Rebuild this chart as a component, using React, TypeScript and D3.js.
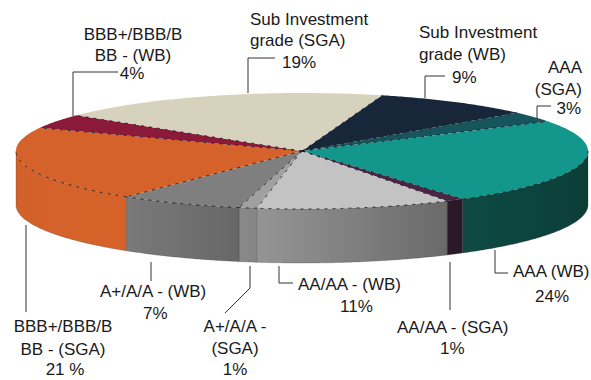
import React from "react";
import * as d3 from "d3";

// Portfolio shares by rating bucket, clockwise from the top-right slice
const categories = [
  "Sub Investment grade (WB)",
  "AAA (SGA)",
  "AAA (WB)",
  "AA/AA - (SGA)",
  "AA/AA - (WB)",
  "A+/A/A - (SGA)",
  "A+/A/A - (WB)",
  "BBB+/BBB/BBB - (SGA)",
  "BBB+/BBB/BBB - (WB)",
  "Sub Investment grade (SGA)",
];
const values = [9, 3, 24, 1, 11, 1, 7, 21, 4, 19];
const pctSep = ["", "", "", "", "", "", "", " ", "", ""];

// Label text lines (the last line of every label is the percentage)
const labelLines = [
  ["Sub Investment", "grade (WB)"],
  ["AAA", "(SGA)"],
  ["AAA (WB)"],
  ["AA/AA - (SGA)"],
  ["AA/AA - (WB)"],
  ["A+/A/A -", "(SGA)"],
  ["A+/A/A - (WB)"],
  ["BBB+/BBB/B", "BB -  (SGA)"],
  ["BBB+/BBB/B", "BB -  (WB)"],
  ["Sub Investment", "grade (SGA)"],
];

// Colours: top face and side wall (left -> right)
const topColors = [
  "#18263a", "#17545c", "#13968b", "#4a2646", "#c3c3c3",
  "#a0a0a0", "#7f7f7f", "#d5622b", "#8b1a3a", "#d7d2be",
];
const wallColors: [string, string][] = [
  ["#101a28", "#101a28"],
  ["#103a40", "#103a40"],
  ["#0e4a43", "#0c3e38"],
  ["#2b1828", "#2b1828"],
  ["#959595", "#6a6a6a"],
  ["#8a8a8a", "#858585"],
  ["#7a7a7a", "#676767"],
  ["#d2602a", "#d66429"],
  ["#6a1029", "#6a1029"],
  ["#b8b3a0", "#b8b3a0"],
];

// Label placement: each line's anchor point, and its leader polyline
type LineLayout = { x: number; y: number; anchor: "start" | "middle" | "end" };
const labelLayout: { lines: LineLayout[]; leader: [number, number][] }[] = [
  {
    lines: [
      { x: 419, y: 38, anchor: "start" },
      { x: 419, y: 60, anchor: "start" },
      { x: 452, y: 83, anchor: "start" },
    ],
    leader: [[425, 98], [425, 76], [445, 76]],
  },
  {
    lines: [
      { x: 582, y: 73, anchor: "end" },
      { x: 582, y: 95, anchor: "end" },
      { x: 581, y: 114, anchor: "end" },
    ],
    leader: [[537, 119], [537, 106], [551, 106]],
  },
  {
    lines: [
      { x: 513, y: 277, anchor: "start" },
      { x: 535, y: 302, anchor: "start" },
    ],
    leader: [[495, 250], [495, 273], [508, 273]],
  },
  {
    lines: [
      { x: 397, y: 333, anchor: "start" },
      { x: 440, y: 354, anchor: "start" },
    ],
    leader: [[450, 262], [450, 310]],
  },
  {
    lines: [
      { x: 298, y: 290, anchor: "start" },
      { x: 340, y: 312, anchor: "start" },
    ],
    leader: [[279, 266], [279, 283], [293, 283]],
  },
  {
    lines: [
      { x: 235, y: 332, anchor: "middle" },
      { x: 235, y: 354, anchor: "middle" },
      { x: 235, y: 375, anchor: "middle" },
    ],
    leader: [[250, 266], [250, 288], [225, 313]],
  },
  {
    lines: [
      { x: 100, y: 297, anchor: "start" },
      { x: 143, y: 319, anchor: "start" },
    ],
    leader: [[151, 262], [151, 281]],
  },
  {
    lines: [
      { x: 63, y: 332, anchor: "middle" },
      { x: 63, y: 355, anchor: "middle" },
      { x: 65, y: 375, anchor: "middle" },
    ],
    leader: [[26, 225], [26, 312]],
  },
  {
    lines: [
      { x: 133, y: 40, anchor: "middle" },
      { x: 133, y: 61, anchor: "middle" },
      { x: 132, y: 79, anchor: "middle" },
    ],
    leader: [[73, 116], [73, 72], [118, 72]],
  },
  {
    lines: [
      { x: 250, y: 25, anchor: "start" },
      { x: 250, y: 46, anchor: "start" },
      { x: 282, y: 68, anchor: "start" },
    ],
    leader: [[248, 93], [248, 58], [275, 58]],
  },
];

const W = 591;
const H = 380;
const cx = 302;
const cy = 151;
const rx = 286;
const ry = 58;
const depth = 54;
const startDeg = 16.3;

const pt = (a: number, dy = 0): [number, number] => [
  cx + rx * Math.sin(a),
  cy - ry * Math.cos(a) + dy,
];

const arcPts = (a0: number, a1: number, dy = 0): [number, number][] => {
  const n = Math.max(2, Math.ceil(Math.abs(a1 - a0) / (Math.PI / 360)));
  const out: [number, number][] = [];
  for (let i = 0; i <= n; i++) out.push(pt(a0 + ((a1 - a0) * i) / n, dy));
  return out;
};

const line = d3.line<[number, number]>();

export default function App() {
  const start = (startDeg * Math.PI) / 180;
  const arcs = d3
    .pie<number>()
    .sort(null)
    .startAngle(start)
    .endAngle(start + 2 * Math.PI)(values);

  const frontLo = Math.PI / 2;
  const frontHi = (3 * Math.PI) / 2;

  const walls = arcs
    .map((a, i) => {
      const b0 = Math.max(a.startAngle, frontLo);
      const b1 = Math.min(a.endAngle, frontHi);
      if (b1 <= b0) return null;
      const top = arcPts(b0, b1, 0);
      const bottom = arcPts(b0, b1, depth).reverse();
      return {
        i,
        d: line([...top, ...bottom])! + "Z",
        rim: line(top)!,
        x0: pt(b0)[0],
        x1: pt(b1)[0],
      };
    })
    .filter((w) => w !== null) as { i: number; d: string; rim: string; x0: number; x1: number }[];

  const tops = arcs.map((a, i) => ({
    i,
    d: line([[cx, cy], ...arcPts(a.startAngle, a.endAngle, 0)])! + "Z",
    edge: line([[cx, cy], pt(a.startAngle)])!,
  }));

  const font = "'Liberation Sans', Arial, Helvetica, sans-serif";

  return (
    <svg
      width={W}
      height={H}
      viewBox={`0 0 ${W} ${H}`}
      style={{ position: "absolute", left: 0, top: 0, background: "#fff" }}
    >
      <defs>
        {walls.map((w) => (
          <linearGradient
            key={w.i}
            id={`wall-${w.i}`}
            gradientUnits="userSpaceOnUse"
            x1={Math.min(w.x0, w.x1)}
            x2={Math.max(w.x0, w.x1)}
            y1={0}
            y2={0}
          >
            <stop offset="0%" stopColor={wallColors[w.i][0]} />
            <stop offset="100%" stopColor={wallColors[w.i][1]} />
          </linearGradient>
        ))}
      </defs>

      {/* side walls */}
      <g>
        {walls.map((w) => (
          <path key={w.i} d={w.d} fill={`url(#wall-${w.i})`} stroke="#2a2a2a" strokeOpacity={0.3} strokeWidth={0.8} />
        ))}
      </g>

      {/* top faces */}
      <g>
        {tops.map((t) => (
          <path key={t.i} d={t.d} fill={topColors[t.i]} />
        ))}
      </g>

      {/* dashed slice borders on the top face */}
      <g fill="none" stroke="#111" strokeOpacity={0.75} strokeWidth={1} strokeDasharray="3 5">
        {tops.map((t) => (
          <path key={`e-${t.i}`} d={t.edge} />
        ))}
        {walls.map((w) => (
          <path key={`r-${w.i}`} d={w.rim} />
        ))}
      </g>

      {/* leader lines */}
      <g fill="none" stroke="#333" strokeWidth={1}>
        {labelLayout.map((l, i) => (
          <path key={i} d={line(l.leader)!} />
        ))}
      </g>

      {/* labels */}
      <g fontFamily={font} fontSize={17} fill="#1a1a1a">
        {labelLayout.map((l, i) => {
          const texts = [...labelLines[i], `${values[i]}${pctSep[i]}%`];
          return texts.map((t, j) => (
            <text
              key={`${i}-${j}`}
              x={l.lines[j].x}
              y={l.lines[j].y}
              textAnchor={l.lines[j].anchor}
            >
              {t}
            </text>
          ));
        })}
      </g>
      <title>{categories.join(", ")}</title>
    </svg>
  );
}
